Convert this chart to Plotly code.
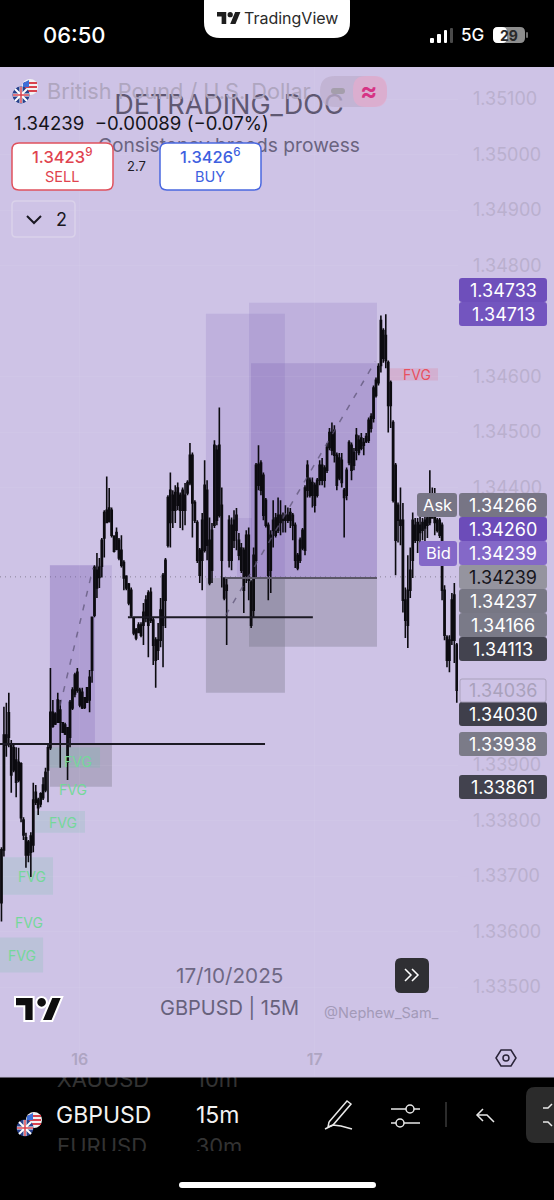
import pandas as pd
import plotly.graph_objects as go

W, H = 554, 1200
FONT = "Inter"
BG = "#CEC3E6"

# ----------------------------------- Data -----------------------------------

# GBPUSD 15m, prices in points (1e-5)
highs = [
    133752,134005,134012,134030,133945,133936,133932,133931,133905,133806,
    133778,133765,133779,133868,133864,133841,133851,133878,133895,133936,
    134075,134017,133995,134030,134017,133977,133976,133968,134017,134040,
    134066,134075,134039,134039,134022,134040,134071,134166,134260,134282,
    134273,134309,134359,134420,134399,134364,134314,134328,134309,134314,
    134269,134242,134228,134220,134166,134147,134157,134157,134192,134206,
    134215,134220,134166,134130,134156,134201,134246,134273,134386,134427,
    134395,134404,134409,134391,134400,134408,134413,134480,134463,134377,
    134341,134291,134354,134449,134413,134346,134336,134485,134476,134544,
    134400,134238,134237,134350,134346,134359,134363,134318,134300,134292,
    134323,134328,134233,134292,134444,134476,134449,134427,134381,134337,
    134323,134377,134354,134382,134377,134355,134368,134364,134363,134354,
    134337,134282,134310,134327,134404,134449,134418,134418,134409,134417,
    134449,134453,134440,134480,134507,134517,134512,134463,134462,134462,
    134399,134436,134485,134481,134471,134507,134494,134498,134489,134498,
    134526,134534,134584,134598,134624,134710,134687,134712,134629,134593,
    134521,134444,134373,134400,134372,134220,134278,134292,134355,134345,
    134345,134350,134345,134355,134355,134431,134400,134399,134345,134345,
    134337,134224,134134,134134,134210,134228,134120,
]
lows = [
    133618,133735,133915,133932,133850,133887,133842,133869,133797,133765,
    133715,133725,133698,133743,133828,133810,133824,133837,133851,133833,
    133927,133967,133972,133976,133895,133958,133954,133873,133932,133999,
    134022,134030,134004,134001,134001,134012,133995,134048,134166,134201,
    134219,134238,134274,134336,134337,134310,134283,134287,134269,134256,
    134215,134215,134188,134166,134134,134125,134138,134130,134116,134157,
    134094,134156,134080,134039,134089,134112,134076,134147,134292,134292,
    134327,134336,134359,134327,134323,134332,134386,134404,134310,134336,
    134264,134228,134215,134283,134269,134224,134228,134327,134332,134346,
    134220,134197,134116,134256,134251,134291,134287,134269,134246,134174,
    134228,134197,134147,134166,134238,134395,134386,134341,134328,134197,
    134210,134292,134310,134318,134314,134319,134319,134336,134327,134305,
    134255,134251,134264,134287,134278,134382,134382,134364,134355,134382,
    134404,134404,134400,134426,134467,134458,134445,134395,134413,134400,
    134310,134377,134440,134413,134431,134449,134458,134467,134458,134480,
    134480,134499,134517,134562,134584,134607,134625,134615,134499,134507,
    134373,134242,134301,134296,134175,134129,134111,134201,134237,134300,
    134282,134296,134305,134301,134309,134332,134345,134314,134319,134309,
    134197,134125,134076,134067,134116,134084,134012,
]
opens = [
    133652,133747,133954,133950,133936,133891,133909,133873,133902,133801,
    133769,133738,133743,133756,133833,133837,133830,133841,133855,133891,
    133931,133995,133974,133977,133999,133976,133956,133967,133950,134003,
    134028,134067,134035,134031,134004,134013,134017,134071,134170,134251,
    134238,134258,134309,134337,134363,134359,134312,134289,134305,134287,
    134265,134240,134226,134215,134165,134143,134139,134134,134152,134165,
    134210,134161,134161,134125,134107,134125,134152,134197,134296,134395,
    134359,134391,134368,134386,134359,134386,134390,134408,134458,134373,
    134337,134287,134269,134287,134395,134305,134251,134332,134467,134350,
    134368,134237,134215,134269,134332,134305,134350,134305,134251,134287,
    134242,134314,134229,134179,134269,134442,134444,134422,134377,134332,
    134251,134323,134314,134323,134350,134341,134341,134350,134341,134350,
    134332,134278,134269,134291,134287,134395,134413,134386,134404,134386,
    134413,134440,134413,134431,134472,134499,134503,134458,134417,134449,
    134395,134386,134445,134476,134440,134467,134485,134471,134481,134483,
    134485,134507,134525,134566,134589,134620,134683,134629,134625,134589,
    134517,134440,134368,134341,134341,134197,134152,134215,134269,134332,
    134305,134319,134323,134327,134332,134337,134345,134350,134341,134341,
    134332,134215,134130,134089,134125,134206,134116,
]
closes = [
    133747,133954,133936,133994,133882,133931,133869,133905,133805,133774,
    133738,133761,133772,133837,133851,133823,133848,133864,133887,133931,
    133995,133970,133992,134017,133977,133959,133972,133905,134013,134035,
    134062,134035,134008,134003,134021,134039,134058,134166,134256,134219,
    134256,134305,134355,134359,134339,134314,134285,134319,134273,134260,
    134237,134219,134192,134170,134138,134129,134152,134152,134175,134197,
    134152,134211,134116,134089,134125,134179,134242,134269,134382,134337,
    134386,134359,134399,134359,134395,134359,134409,134458,134372,134341,
    134269,134242,134341,134404,134296,134228,134323,134476,134341,134476,
    134269,134201,134224,134341,134269,134341,134323,134278,134291,134215,
    134314,134233,134152,134278,134440,134404,134395,134350,134332,134242,
    134314,134341,134345,134350,134337,134345,134350,134341,134355,134332,
    134269,134255,134305,134323,134399,134440,134386,134409,134368,134413,
    134440,134413,134435,134472,134499,134467,134458,134404,134453,134409,
    134382,134431,134481,134431,134463,134494,134463,134489,134476,134492,
    134521,134528,134579,134593,134618,134701,134633,134674,134548,134548,
    134377,134305,134341,134332,134197,134161,134215,134251,134341,134305,
    134337,134332,134337,134341,134345,134346,134352,134337,134323,134314,
    134215,134134,134089,134125,134197,134125,134035,
]
times = pd.date_range("2025-10-15 16:00", periods=len(highs), freq="15min")

# the levels that sit behind the price tags are left out
price_ticks = [1.351, 1.350, 1.349, 1.348, 1.346, 1.345, 1.344,
               1.339, 1.338, 1.337, 1.336, 1.335]
day_ticks = ["2025-10-16", "2025-10-17"]
day_labels = ["16", "17"]

# position tools: (start, end, top, bottom, colour)
zones = [
    ("2025-10-15 20:57", "2025-10-16 03:17", 1.34260, 1.33936, "rgba(115,85,175,0.16)"),
    ("2025-10-15 20:57", "2025-10-16 01:33", 1.34260, 1.33936, "rgba(115,85,175,0.20)"),
    ("2025-10-15 20:57", "2025-10-16 03:17", 1.33936, 1.33861, "rgba(110,110,125,0.32)"),
    ("2025-10-16 12:53", "2025-10-16 20:57", 1.34713, 1.34237, "rgba(115,85,175,0.16)"),
    ("2025-10-16 12:53", "2025-10-16 20:57", 1.34237, 1.34030, "rgba(110,110,125,0.32)"),
    ("2025-10-16 17:17", "2025-10-17 06:21", 1.34733, 1.34237, "rgba(115,85,175,0.16)"),
    ("2025-10-16 17:29", "2025-10-17 06:21", 1.34624, 1.34237, "rgba(115,85,175,0.22)"),
    ("2025-10-16 16:03", "2025-10-16 17:35", 1.34345, 1.34237, "rgba(115,85,175,0.14)"),
    ("2025-10-16 17:17", "2025-10-17 06:21", 1.34237, 1.34113, "rgba(110,110,125,0.32)"),
]

# horizontal levels: (start, end, price, colour, width)
levels = [
    ("2025-10-15 15:51", "2025-10-16 18:55", 1.33938, "#1c1a24", 2),
    ("2025-10-16 04:55", "2025-10-16 23:48", 1.34166, "#1c1a24", 2),
    ("2025-10-16 14:49", "2025-10-17 06:21", 1.34237, "#5b5768", 2),
]

fvg_text = ["FVG", "FVG", "FVG", "FVG", "FVG", "FVG", "FVG"]
fvg_times = ["2025-10-17 10:26", "2025-10-15 23:49", "2025-10-15 23:18", "2025-10-15 22:17",
             "2025-10-15 19:07", "2025-10-15 18:49", "2025-10-15 18:06"]
fvg_prices = [1.34604, 1.33907, 1.33855, 1.33797, 1.33700, 1.33616, 1.33556]
fvg_colors = ["#E8505F", "#74D89A", "#74D89A", "#74D89A", "#74D89A", "#74D89A", "#74D89A"]

# fair value gap boxes: (start, end, top, bottom, colour)
fvg_boxes = [
    ("2025-10-17 07:28", "2025-10-17 12:35", 1.34615, 1.34593, "rgba(242,54,69,0.13)"),
    ("2025-10-15 20:57", "2025-10-16 02:04", 1.33932, 1.33895, "rgba(90,190,150,0.16)"),
    ("2025-10-15 19:26", "2025-10-16 00:32", 1.33817, 1.33778, "rgba(90,190,150,0.16)"),
    ("2025-10-15 16:03", "2025-10-15 21:16", 1.33734, 1.33666, "rgba(90,190,150,0.16)"),
    ("2025-10-15 15:51", "2025-10-15 20:15", 1.33589, 1.33526, "rgba(90,190,150,0.16)"),
]

trade_1_times = ["2025-10-15 21:59", "2025-10-16 01:21"]
trade_1_prices = [1.34007, 1.34255]
trade_2_times = ["2025-10-16 14:55", "2025-10-17 06:10"]
trade_2_prices = [1.34170, 1.34627]

# scale tags on the right: (text, page y, fill, text colour)
price_tags = [
    ("1.34733", 290, "#6E4FBB", "#FFFFFF"),
    ("1.34713", 314, "#7355BF", "#FFFFFF"),
    ("1.34266", 505, "#777585", "#FFFFFF"),
    ("1.34260", 529, "#6C4CB9", "#FFFFFF"),
    ("1.34239", 553, "#8468C8", "#FFFFFF"),
    ("1.34239", 577, "#95949F", "#16151C"),
    ("1.34237", 601, "#777784", "#FFFFFF"),
    ("1.34166", 625, "#7A7A88", "#FFFFFF"),
    ("1.34113", 649, "#43434F", "#FFFFFF"),
    ("1.34030", 714, "#3F3F4B", "#FFFFFF"),
    ("1.33938", 744, "#7B7B88", "#FFFFFF"),
    ("1.33861", 787, "#42424E", "#FFFFFF"),
]

# symbols scrolled behind the bottom bar
wheel_text = ["XAUUSD", "10m", "EURUSD", "30m"]
wheel_x = [103, 217, 102, 219]
wheel_y = [1081, 1081, 1148, 1148]


# --------------------------------- Helpers ----------------------------------

def pt(x, y):
    return f"{x / W:.5f},{1 - y / H:.5f}"


def rrect(x0, y0, x1, y1, r):
    ''' Rounded rectangle path in page pixels '''
    return (f"M{pt(x0 + r, y0)} L{pt(x1 - r, y0)} Q{pt(x1, y0)} {pt(x1, y0 + r)} "
            f"L{pt(x1, y1 - r)} Q{pt(x1, y1)} {pt(x1 - r, y1)} "
            f"L{pt(x0 + r, y1)} Q{pt(x0, y1)} {pt(x0, y1 - r)} "
            f"L{pt(x0, y0 + r)} Q{pt(x0, y0)} {pt(x0 + r, y0)} Z")


def poly(points, close=False):
    s = "M" + " L".join(pt(x, y) for x, y in points)
    return s + (" Z" if close else "")


def path(d, fill="rgba(0,0,0,0)", line="rgba(0,0,0,0)", width=0, layer="above"):
    fig.add_shape(type="path", path=d, xref="paper", yref="paper", fillcolor=fill,
                  line=dict(color=line, width=width), layer=layer)


def circle(cx, cy, r, fill="rgba(0,0,0,0)", line="rgba(0,0,0,0)", width=0):
    fig.add_shape(type="circle", xref="paper", yref="paper",
                  x0=(cx - r) / W, x1=(cx + r) / W, y0=1 - (cy + r) / H, y1=1 - (cy - r) / H,
                  fillcolor=fill, line=dict(color=line, width=width))


def label(text, x, y, size, color, anchor="center", weight=400):
    fig.add_annotation(text=text, x=x / W, y=1 - y / H, xref="paper", yref="paper",
                       xanchor=anchor, yanchor="middle", showarrow=False,
                       font=dict(family=FONT, size=size, color=color, weight=weight))


def flags(x, y):
    ''' GBP/USD pair icon, x and y are the centre of the pound flag '''
    cx, cy = x + 9, y - 8
    circle(cx, cy, 8, fill="#F2F2F2")
    for dy in (-4, 0, 4):
        path(poly([(cx - 6, cy + dy), (cx + 7, cy + dy)]), line="#D8434E", width=2)
    path(poly([(cx - 7, cy - 4), (cx - 1, cy - 7), (cx - 1, cy), (cx - 7, cy)], True), fill="#3D6FD8")
    circle(x, y, 8.5, fill="#27408B")
    path(poly([(x - 6, y - 6), (x + 6, y + 6)]), line="#FFFFFF", width=2)
    path(poly([(x + 6, y - 6), (x - 6, y + 6)]), line="#FFFFFF", width=2)
    path(poly([(x - 8, y), (x + 8, y)]), line="#FFFFFF", width=3)
    path(poly([(x, y - 8), (x, y + 8)]), line="#FFFFFF", width=3)
    path(poly([(x - 8, y), (x + 8, y)]), line="#D8434E", width=1.5)
    path(poly([(x, y - 8), (x, y + 8)]), line="#D8434E", width=1.5)


def tv_logo(x, y, sx, sy, fill, outline="rgba(0,0,0,0)", width=0):
    ''' TradingView mark, x and y are the top left of its 36x18 box '''
    px = lambda u, v: (x + u * sx, y + v * sy)
    path(poly([px(0, 0), px(14, 0), px(14, 18), px(7, 18), px(7, 7), px(0, 7)], True),
         fill=fill, line=outline, width=width)
    path(poly([px(27.5, 0), px(35.5, 0), px(28, 18), px(20, 18)], True),
         fill=fill, line=outline, width=width)
    circle(x + 20 * sx, y + 4 * sy, 4 * sx, fill=fill, line=outline, width=width)


# ---------------------------------- Figure ----------------------------------

fig = go.Figure()

fig.add_trace(go.Scatter(
    x=["2025-10-16 15:14", "2025-10-16 15:14"], y=[1.35086, 1.35014], mode="text",
    text=["DETRADING_DOC", "Consistency breeds prowess"], hoverinfo="skip",
    textfont=dict(family=FONT, size=[27, 19.2], color=["#5F5872", "#6A6480"]),
))
fig.add_trace(go.Scatter(
    x=trade_1_times, y=trade_1_prices, mode="lines", hoverinfo="skip",
    line=dict(color="rgba(95,85,120,0.75)", width=1.5, dash="6px,8px"),
))
fig.add_trace(go.Scatter(
    x=trade_2_times, y=trade_2_prices, mode="lines", hoverinfo="skip",
    line=dict(color="rgba(95,85,120,0.75)", width=1.5, dash="6px,8px"),
))
fig.add_trace(go.Candlestick(
    x=times,
    open=[v / 1e5 for v in opens], high=[v / 1e5 for v in highs],
    low=[v / 1e5 for v in lows], close=[v / 1e5 for v in closes],
    increasing=dict(line=dict(color="#0c0b10", width=1.6), fillcolor="#2a2730"),
    decreasing=dict(line=dict(color="#0c0b10", width=1.6), fillcolor="#0c0b10"),
    whiskerwidth=0,
))
fig.add_trace(go.Scatter(
    x=wheel_x, y=wheel_y, mode="text", text=wheel_text, xaxis="x2", yaxis="y2",
    hoverinfo="skip", textfont=dict(family=FONT, size=22, color="#333333"),
))

fig.update_layout(
    width=W, height=H, autosize=False,
    margin=dict(l=0, r=0, t=0, b=0),
    paper_bgcolor=BG, plot_bgcolor="rgba(0,0,0,0)",
    showlegend=False, hovermode=False,
    font=dict(family=FONT),
    xaxis=dict(
        domain=[0, 458 / W], type="date",
        range=["2025-10-15 15:51", "2025-10-17 14:37:30"],
        rangeslider=dict(visible=False),
        tickmode="array", tickvals=day_ticks, ticktext=day_labels,
        ticklabelposition="inside", ticklabelstandoff=6,
        tickfont=dict(family=FONT, size=16, color="#AEA5C2", weight=600),
        showgrid=True, gridcolor="rgba(255,255,255,0.05)",
        zeroline=False, showline=False, ticks="",
    ),
    yaxis=dict(
        domain=[1 - 1077 / H, 1 - 67 / H], side="right",
        range=[1 - (1077 - 99) / 55500 + 0.351, 1 - (67 - 99) / 55500 + 0.351],
        tickmode="array", tickvals=price_ticks, ticktext=[f"{v:.5f}" for v in price_ticks],
        ticklabelstandoff=14,
        tickfont=dict(family=FONT, size=18, color="#BAB0CE"),
        showgrid=True, gridcolor="rgba(255,255,255,0.05)",
        zeroline=False, showline=False, ticks="",
    ),
    xaxis2=dict(domain=[0, 1], range=[0, W], visible=False, anchor="y2", fixedrange=True),
    yaxis2=dict(domain=[1 - 1151 / H, 1 - 1077 / H], range=[1151, 1077], visible=False,
                anchor="x2", fixedrange=True),
)

# chart tools, under the candles
for start, end, top, bottom, color in zones + fvg_boxes:
    fig.add_shape(type="rect", xref="x", yref="y", x0=start, x1=end, y0=bottom, y1=top,
                  fillcolor=color, line=dict(width=0), layer="below")
for start, end, price, color, width in levels:
    fig.add_shape(type="line", xref="x", yref="y", x0=start, x1=end, y0=price, y1=price,
                  line=dict(color=color, width=width), layer="above")
fig.add_shape(type="line", xref="paper", yref="y", x0=0, x1=458 / W, y0=1.34239, y1=1.34239,
              line=dict(color="#8A8498", width=1, dash="1px,4px"), layer="below")

for text, t, price, color in zip(fvg_text, fvg_times, fvg_prices, fvg_colors):
    fig.add_annotation(text=text, x=t, y=price, xref="x", yref="y", showarrow=False,
                       font=dict(family=FONT, size=14, color=color))

# phone bars
path(rrect(-2, -2, W + 2, 67, 0), fill="#000000", layer="below")
path(rrect(-2, 1077, W + 2, H + 2, 0), fill="#000000", layer="below")
path(poly([(0, 1077), (W, 1077)]), line="#C4BAD8", width=1)

path(rrect(204, -14, 350, 38, 16), fill="#FFFFFF")
tv_logo(217, 12, 0.66, 0.66, "#1E1E1E")
label("TradingView", 291, 18, 16, "#2A2A2A")
label("06:50", 74, 35, 22, "#FFFFFF", weight=500)
for x0, x1, top, color in [(430, 434, 38, "#FFFFFF"), (437, 441, 34, "#FFFFFF"),
                           (444, 447, 30, "#FFFFFF"), (450, 453, 28, "#4A4A4A")]:
    path(rrect(x0, top, x1, 43, 1), fill=color)
label("5G", 472, 35, 17, "#FFFFFF", weight=500)
path(rrect(493, 27, 525, 43, 5), fill="#8E8E8E")
path(rrect(493, 27, 507, 43, 5), fill="#FFFFFF")
path(rrect(526, 32, 528, 38, 1), fill="#6E6E6E")
label("29", 509, 35, 14, "#2A2A2A", weight=700)

# legend
flags(21, 95)
label("British Pound / U.S. Dollar", 45, 91, 21.7, "#AFA6BF", anchor="left")
path(rrect(320, 76, 387, 107, 15), fill="rgba(190,175,205,0.75)")
path(rrect(353, 76, 387, 107, 13), fill="rgba(232,170,205,0.65)")
path(rrect(331, 88, 345, 94, 3), fill="#A49EAB")
label("≈", 369, 91, 26, "#D63384", weight=600)
label("1.34239  −0.00089 (−0.07%)", 12, 123, 18.6, "#15141A", anchor="left")

path(rrect(12, 143, 113, 190, 7), fill="#FFFFFF", line="#E0525E", width=1.5)
label("1.3423<sup>9</sup>", 62, 156, 16.5, "#E0434F", weight=500)
label("SELL", 62, 177, 14.5, "#E0434F")
label("2.7", 136, 166, 13, "#1E1C26")
path(rrect(160, 143, 261, 190, 7), fill="#FFFFFF", line="#4A68E0", width=1.5)
label("1.3426<sup>6</sup>", 210, 156, 16.5, "#3E60E0", weight=500)
label("BUY", 210, 177, 14.5, "#3E60E0")

path(rrect(12, 201, 75, 237, 4), line="#DAD2EA", width=1.5)
path(poly([(27, 216), (34, 223), (41, 216)]), line="#1A1822", width=2)
label("2", 61, 219, 18, "#1A1822")

# price tags
for text, y, fill, color in price_tags:
    path(rrect(459, y - 12, 547, y + 12, 3), fill=fill)
    label(text, 503, y, 18, color)
path(rrect(460, 679, 546, 702, 2), line="#A9A1BB", width=1)
label("1.34036", 503, 690, 18, "#A9A1BB")
path(rrect(417, 493, 457, 517, 3), fill="#777585")
label("Ask", 437, 505, 16.5, "#FFFFFF")
path(rrect(419, 541, 457, 566, 3), fill="#8468C8")
label("Bid", 438, 553, 16.5, "#FFFFFF")

# footer watermark
label("17/10/2025", 229, 975, 20.7, "#6E6884")
label("GBPUSD | 15M", 229, 1008, 20, "#67617C")
label("@Nephew_Sam_", 381, 1012, 14.5, "#A39AB8")
tv_logo(15, 997, 1.33, 1.33, "#0E0E0E", outline="#FFFFFF", width=2)
path(rrect(395, 958, 429, 993, 6), fill="#2F2F33")
path(poly([(405, 969), (411, 975), (405, 981)]), line="#FFFFFF", width=1.5)
path(poly([(412, 969), (418, 975), (412, 981)]), line="#FFFFFF", width=1.5)

hexagon = [(496, 1058), (501, 1050), (511, 1050), (516, 1058), (511, 1066), (501, 1066)]
path(poly(hexagon, True), line="#2A2438", width=1.5)
circle(506, 1058, 3, line="#2A2438", width=1.5)

# bottom bar
flags(25, 1128)
label("GBPUSD", 103, 1115, 23, "#F2F2F2")
label("15m", 217, 1115, 23, "#F2F2F2")
path(poly([(329, 1122), (347, 1101), (351, 1104), (333, 1125), (328, 1127), (329, 1122)]),
     line="#E8E8E8", width=1.5)
path(poly([(325, 1129), (333, 1125), (341, 1126), (352, 1129)]), line="#E8E8E8", width=1.5)
path(poly([(391, 1109), (420, 1109)]), line="#E8E8E8", width=1.5)
path(poly([(391, 1123), (420, 1123)]), line="#E8E8E8", width=1.5)
circle(410, 1109, 4, fill="#000000", line="#E8E8E8", width=1.5)
circle(400, 1123, 4, fill="#000000", line="#E8E8E8", width=1.5)
path(poly([(446, 1102), (446, 1127)]), line="#3A3A3A", width=1.5)
path(poly([(483, 1109), (477, 1115), (483, 1121)]), line="#E8E8E8", width=1.5)
path(poly([(477, 1115), (487, 1115), (494, 1122)]), line="#E8E8E8", width=1.5)
path(rrect(526, 1087, 575, 1143, 9), fill="#2B2B2B")
path(poly([(552, 1104), (548, 1108), (543, 1108)]), line="#E8E8E8", width=1.5)
path(poly([(552, 1126), (548, 1122), (543, 1122)]), line="#E8E8E8", width=1.5)
path(rrect(179, 1182, 376, 1188, 3), fill="#FFFFFF")

# no page margin, the figure fills the window
fig.write_html("out.html", config={"displayModeBar": False},
               post_script="document.body.style.margin = '0';")
